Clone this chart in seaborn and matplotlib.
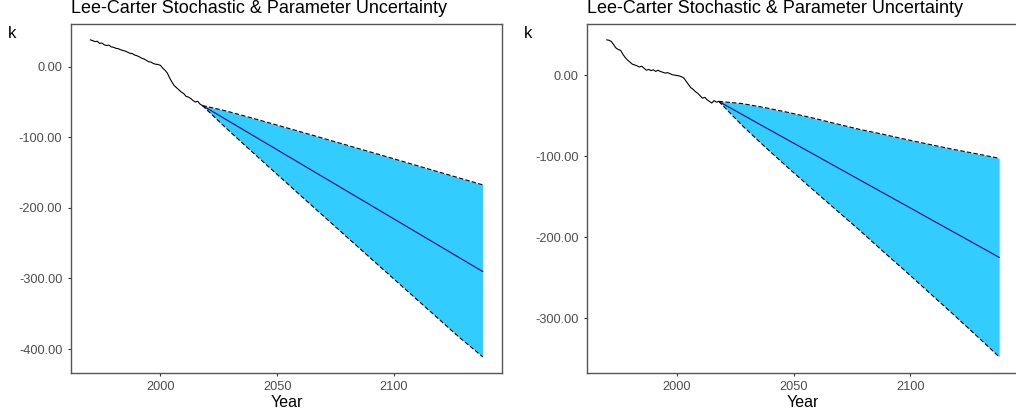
import matplotlib
matplotlib.use("Agg")
import matplotlib.pyplot as plt
import matplotlib.ticker as mticker
import seaborn as sns

# observed k (1970-2018)
hist_years = list(range(1970, 2019))
hist_k_left = [38, 37, 35.5, 36, 33, 33.5, 31, 30, 30.5, 28,
               27.5, 26, 25.5, 24, 23, 22, 20.5, 19, 18.5, 16.5,
               15.5, 14, 12, 11, 9, 7, 6.5, 4.5, 3.5, 3,
               2, -2, -5, -9, -16, -22, -27, -30, -33, -36,
               -38, -42, -43, -45, -48, -50, -49, -53, -55]
hist_k_right = [44, 43.5, 42, 38, 34, 32, 31, 26, 22, 19,
                16.5, 14, 13, 12, 10.5, 11.5, 9, 6.5, 7.5, 6,
                7, 5, 6.5, 5, 4, 3, 3.5, 2.5, 1, 0.5,
                0, -0.5, -1.5, -3, -7, -11, -15, -17, -20, -22,
                -25, -28, -27, -30, -32, -34, -31, -33, -32]

# forecast (jump-off 2018, every 10 years to 2138)
fc_years = [2018, 2028, 2038, 2048, 2058, 2068, 2078, 2088, 2098, 2108, 2118, 2128, 2138]
mid_left = [-55, -74.6, -94.2, -113.8, -133.4, -153.0, -172.6, -192.2, -211.8, -231.4, -251.0, -270.6, -290.2]
up_left = [-55, -62.6, -71.6, -80.9, -90.3, -99.8, -109.4, -119.0, -128.6, -138.3, -148.0, -157.7, -167.4]
lo_left = [-55, -86.6, -116.8, -146.7, -176.5, -206.2, -235.8, -265.4, -295.0, -324.5, -354.0, -383.5, -411.0]
mid_right = [-32, -48.2, -64.3, -80.3, -96.3, -112.4, -128.4, -144.4, -160.4, -176.5, -192.5, -208.5, -224.6]
up_right = [-32, -34.7, -39.8, -45.8, -52.3, -59.4, -66.4, -72.4, -78.9, -85.0, -91.0, -96.5, -102.2]
lo_right = [-32, -61.7, -88.8, -114.8, -140.3, -165.4, -190.4, -216.4, -241.9, -268.0, -294.0, -320.5, -347.4]

title = "Lee-Carter Stochastic & Parameter Uncertainty"

sns.set_theme(style="white")
plt.rcParams["font.family"] = ["Liberation Sans", "DejaVu Sans"]

fig = plt.figure(figsize=(10.16, 4.2), dpi=100)
W, H = 1016.0, 420.0
bottom = (H - 372.7) / H
height = 348.7 / H
ax1 = fig.add_axes([70.6 / W, bottom, 431.8 / W, height])
ax2 = fig.add_axes([587.0 / W, bottom, 431.8 / W, height])


def draw(ax, hk, mid, up, lo):
    ax.fill_between(fc_years, lo, up, color="#33CCFF", linewidth=0, zorder=1)
    sns.lineplot(x=hist_years, y=hk, ax=ax, color="black", lw=0.8, zorder=3)
    sns.lineplot(x=fc_years, y=mid, ax=ax, color="#1a1a8c", lw=0.9, zorder=3)
    sns.lineplot(x=fc_years, y=up, ax=ax, color="black", lw=0.8, linestyle=(0, (4, 2)), zorder=3)
    sns.lineplot(x=fc_years, y=lo, ax=ax, color="black", lw=0.8, linestyle=(0, (4, 2)), zorder=3)
    ax.margins(x=0.05, y=0.05)
    ax.xaxis.set_major_locator(mticker.MultipleLocator(50))
    ax.yaxis.set_major_locator(mticker.MultipleLocator(100))
    ax.yaxis.set_major_formatter(mticker.FormatStrFormatter("%.2f"))
    for s in ax.spines.values():
        s.set_visible(True)
        s.set_color("#555555")
        s.set_linewidth(1.0)
    ax.tick_params(axis="both", which="major", direction="out", length=2.5, width=0.8,
                   color="#333333", labelcolor="#4D4D4D", labelsize=9.2, pad=3.5,
                   bottom=True, left=True)
    ax.set_xlabel("Year", fontsize=11.5, color="black", labelpad=1.5)
    ax.set_ylabel("k", fontsize=12, color="black", rotation=0, ha="center", va="center")
    ax.yaxis.set_label_coords(-0.136, 0.974)
    ax.set_title(title, loc="left", fontsize=13, color="black", pad=7.7)
    ax.grid(False)


draw(ax1, hist_k_left, mid_left, up_left, lo_left)
draw(ax2, hist_k_right, mid_right, up_right, lo_right)

fig.savefig("out.png", dpi=100)
